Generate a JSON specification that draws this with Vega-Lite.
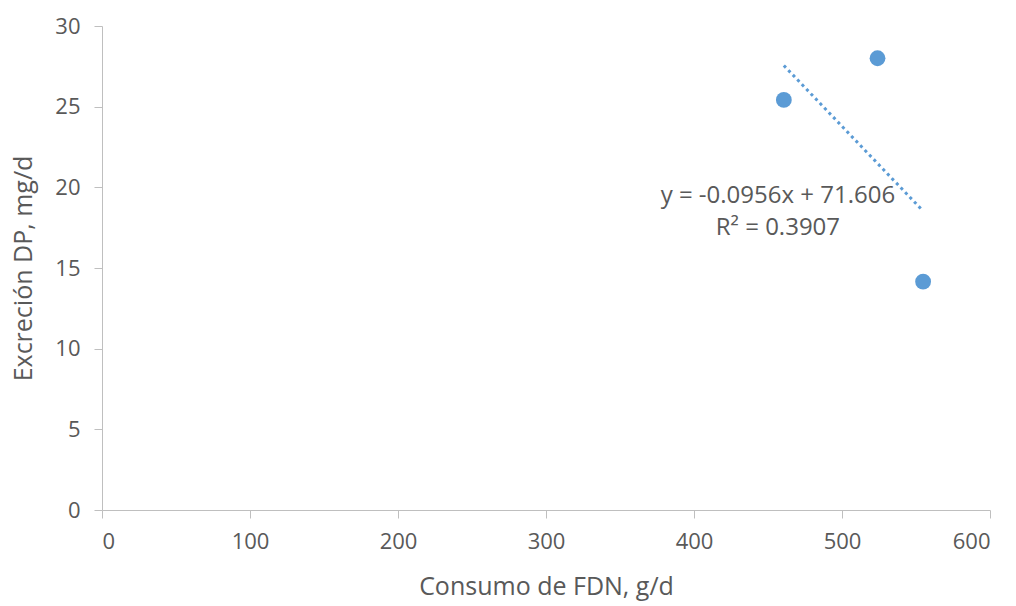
{
  "$schema": "https://vega.github.io/schema/vega-lite/v6.json",
  "width": 888,
  "height": 484,
  "autosize": {"type": "none"},
  "padding": {"left": 102, "top": 26, "right": 26, "bottom": 96},
  "background": "white",
  "config": {
    "view": {"stroke": null},
    "font": "Open Sans",
    "axis": {
      "grid": false,
      "domainColor": "#BFBFBF",
      "tickColor": "#BFBFBF",
      "tickSize": 8,
      "labelColor": "#595959",
      "titleColor": "#595959",
      "labelFontSize": 22,
      "titleFontSize": 25,
      "labelFont": "Open Sans",
      "titleFont": "Open Sans",
      "titleFontWeight": "normal"
    }
  },
  "datasets": {
    "puntos": [
      {"fdn": 460.7, "dp": 25.42},
      {"fdn": 524.0, "dp": 28.0},
      {"fdn": 554.8, "dp": 14.15}
    ],
    "etiquetas": [
      {"fdn": 456.7, "dp": 19.47, "texto": "y = -0.0956x + 71.606"},
      {"fdn": 456.7, "dp": 17.48, "texto": "R² = 0.3907"}
    ]
  },
  "layer": [
    {
      "data": {"name": "puntos"},
      "transform": [{"regression": "dp", "on": "fdn"}],
      "mark": {"type": "line", "color": "#5B9BD5", "strokeWidth": 3, "strokeDash": [3, 3.5]},
      "encoding": {
        "x": {"field": "fdn", "type": "quantitative", "scale": {"domain": [0, 600]}},
        "y": {"field": "dp", "type": "quantitative", "scale": {"domain": [0, 30]}}
      }
    },
    {
      "data": {"name": "puntos"},
      "mark": {"type": "circle", "color": "#5B9BD5", "size": 250, "opacity": 1},
      "encoding": {
        "x": {
          "field": "fdn",
          "type": "quantitative",
          "title": "Consumo de FDN, g/d",
          "scale": {"domain": [0, 600], "nice": false},
          "axis": {"values": [0, 100, 200, 300, 400, 500, 600], "labelPadding": 13, "titlePadding": 22}
        },
        "y": {
          "field": "dp",
          "type": "quantitative",
          "title": "Excreción DP, mg/d",
          "scale": {"domain": [0, 30], "nice": false},
          "axis": {"values": [0, 5, 10, 15, 20, 25, 30], "labelPadding": 14, "titlePadding": 18}
        }
      }
    },
    {
      "data": {"name": "etiquetas"},
      "mark": {"type": "text", "fontSize": 24, "color": "#595959", "align": "center", "baseline": "middle", "font": "Open Sans"},
      "encoding": {
        "x": {"field": "fdn", "type": "quantitative"},
        "y": {"field": "dp", "type": "quantitative"},
        "text": {"field": "texto"}
      }
    }
  ]
}
